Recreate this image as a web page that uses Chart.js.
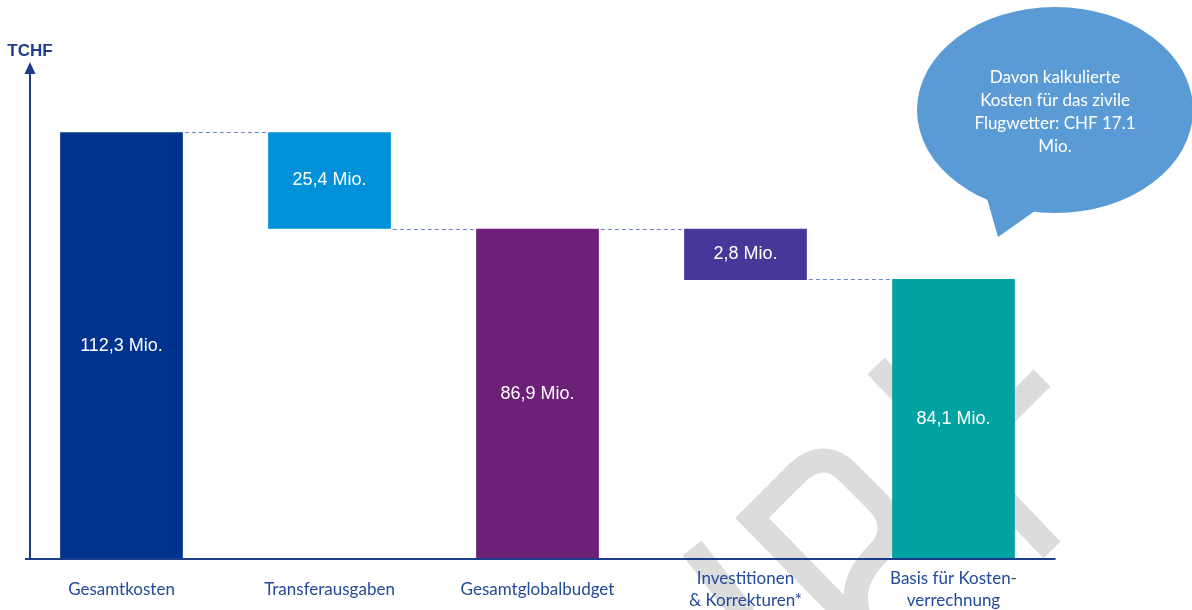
<!DOCTYPE html>
<html>
<head>
<meta charset="utf-8">
<script src="https://cdn.jsdelivr.net/npm/chart.js@4.4.1/dist/chart.umd.min.js"></script>
<style>
  html, body { margin: 0; padding: 0; background: #fff; }
  #wrap { width: 1192px; height: 610px; position: relative; }
</style>
</head>
<body>
<div id="wrap"><canvas id="chart"></canvas></div>
<script>
// -----------------------------------------------------------
// DATA
// -----------------------------------------------------------

const categories = [
  ["Gesamtkosten"],
  ["Transferausgaben"],
  ["Gesamtglobalbudget"],
  ["Investitionen", "& Korrekturen*"],
  ["Basis für Kosten-", "verrechnung"]
];

// bar start / end as drawn in the picture (same unit as the 112,3 bar)
const barLow  = [0, 86.9, 0, 73.4, 0];
const barHigh = [112.3, 112.3, 86.9, 86.9, 73.7];

const valueLabels = ["112,3 Mio.", "25,4 Mio.", "86,9 Mio.", "2,8 Mio.", "84,1 Mio."];
const barColors = ["#00338D", "#0091DA", "#6D2077", "#483698", "#00A3A1"];

// dashed step lines between neighbouring bars
const connectorLevels = [barHigh[0], barLow[1], barHigh[2], barHigh[4]];

const axisTitle = "TCHF";
const bubbleLines = ["Davon kalkulierte", "Kosten für das zivile", "Flugwetter: CHF 17.1", "Mio."];

const axisColor = "#1E3C8C";
const labelColor = "#234A9A";

// -----------------------------------------------------------
// DECORATION PLUGIN
// -----------------------------------------------------------

function band(ctx, pts) {
  ctx.beginPath();
  ctx.moveTo(pts[0][0], pts[0][1]);
  for (let i = 1; i < pts.length; i++) ctx.lineTo(pts[i][0], pts[i][1]);
  ctx.stroke();
}

// watermark letter drawn in a frame turned by 45 degrees
function rot(s, t) {
  const k = Math.SQRT1_2;
  return [752 + (s + t) * k, 518 + (s - t) * k];
}

const waterfallDeco = {
  id: "waterfallDeco",
  beforeDatasetsDraw(chart) {
    const ctx = chart.ctx;
    ctx.save();
    ctx.strokeStyle = "#DCDCDC";
    ctx.lineWidth = 24;
    ctx.lineCap = "butt";
    ctx.lineJoin = "miter";
    band(ctx, [[692, 548], [745, 616]]);

    // rotated "D"
    const p = (s, t) => rot(s, t);
    ctx.beginPath();
    ctx.moveTo(...p(170, -2));
    ctx.lineTo(...p(0, 0));
    ctx.lineTo(...p(0, 60));
    ctx.quadraticCurveTo(...p(0, 100), ...p(35, 100));
    ctx.lineTo(...p(75, 100));
    ctx.quadraticCurveTo(...p(114, 100), ...p(114, 62));
    ctx.quadraticCurveTo(...p(114, 18), ...p(150, 4));
    ctx.stroke();

    ctx.lineJoin = "round";
    band(ctx, [[876, 366], [1052, 550]]);
    band(ctx, [[1042, 378], [960, 460]]);
    ctx.restore();
  },
  afterDatasetsDraw(chart) {
    const { ctx, scales: { x, y }, chartArea } = chart;
    const meta = chart.getDatasetMeta(0);
    const yB = y.getPixelForValue(0);
    ctx.save();

    // axes
    ctx.strokeStyle = axisColor;
    ctx.fillStyle = axisColor;
    ctx.lineWidth = 2;
    ctx.beginPath();
    ctx.moveTo(30, yB);
    ctx.lineTo(30, 72);
    ctx.stroke();
    ctx.beginPath();
    ctx.moveTo(30, 62);
    ctx.lineTo(24.5, 74);
    ctx.lineTo(35.5, 74);
    ctx.closePath();
    ctx.fill();
    ctx.beginPath();
    ctx.moveTo(25, yB);
    ctx.lineTo(chartArea.right - 2, yB);
    ctx.stroke();

    ctx.font = "bold 17px 'Liberation Sans', Arial, sans-serif";
    ctx.textAlign = "center";
    ctx.textBaseline = "middle";
    ctx.fillText(axisTitle, 30, 51);

    // dashed connectors
    ctx.strokeStyle = "#6F86C5";
    ctx.lineWidth = 1;
    ctx.setLineDash([4, 3]);
    connectorLevels.forEach((lv, i) => {
      const a = meta.data[i], b = meta.data[i + 1];
      const yy = Math.round(y.getPixelForValue(lv)) + 0.5;
      ctx.beginPath();
      ctx.moveTo(a.x + a.width / 2 + 2, yy);
      ctx.lineTo(b.x - b.width / 2 - 1, yy);
      ctx.stroke();
    });
    ctx.setLineDash([]);

    // value labels inside bars
    ctx.fillStyle = "#FFFFFF";
    ctx.font = "18px 'Liberation Sans', Arial, sans-serif";
    meta.data.forEach((el, i) => {
      ctx.fillText(valueLabels[i], el.x, (el.y + el.base) / 2);
    });

    // category labels
    ctx.fillStyle = labelColor;
    ctx.font = "17px Lato, sans-serif";
    categories.forEach((lines, i) => {
      const cx = x.getPixelForValue(i);
      const lh = 22;
      const y0 = 590 - (lines.length - 1) * lh / 2;
      lines.forEach((t, k) => ctx.fillText(t, cx, y0 + k * lh));
    });

    // speech bubble
    ctx.fillStyle = "#5B9BD5";
    ctx.beginPath();
    ctx.ellipse(1055, 110, 138, 103, 0, 0, Math.PI * 2);
    ctx.fill();
    ctx.beginPath();
    ctx.moveTo(984, 188);
    ctx.lineTo(998, 237);
    ctx.lineTo(1042, 206);
    ctx.closePath();
    ctx.fill();
    ctx.fillStyle = "#FFFFFF";
    ctx.font = "17px Lato, sans-serif";
    bubbleLines.forEach((t, k) => ctx.fillText(t, 1055, 78 + k * 22.7));

    ctx.restore();
  }
};

// -----------------------------------------------------------
// CHART
// -----------------------------------------------------------

new Chart(document.getElementById("chart"), {
  type: "bar",
  data: {
    labels: categories,
    datasets: [{
      data: barLow.map((lo, i) => [lo, barHigh[i]]),
      backgroundColor: barColors,
      borderWidth: 0,
      categoryPercentage: 0.59,
      barPercentage: 1
    }]
  },
  options: {
    responsive: true,
    maintainAspectRatio: false,
    animation: false,
    layout: { padding: { left: 17.5, right: 134.5, top: 103, bottom: 51 } },
    plugins: { legend: { display: false }, tooltip: { enabled: false } },
    scales: {
      x: { display: false },
      y: { display: false, min: 0, max: 120 }
    }
  },
  plugins: [waterfallDeco]
});
</script>
</body>
</html>
